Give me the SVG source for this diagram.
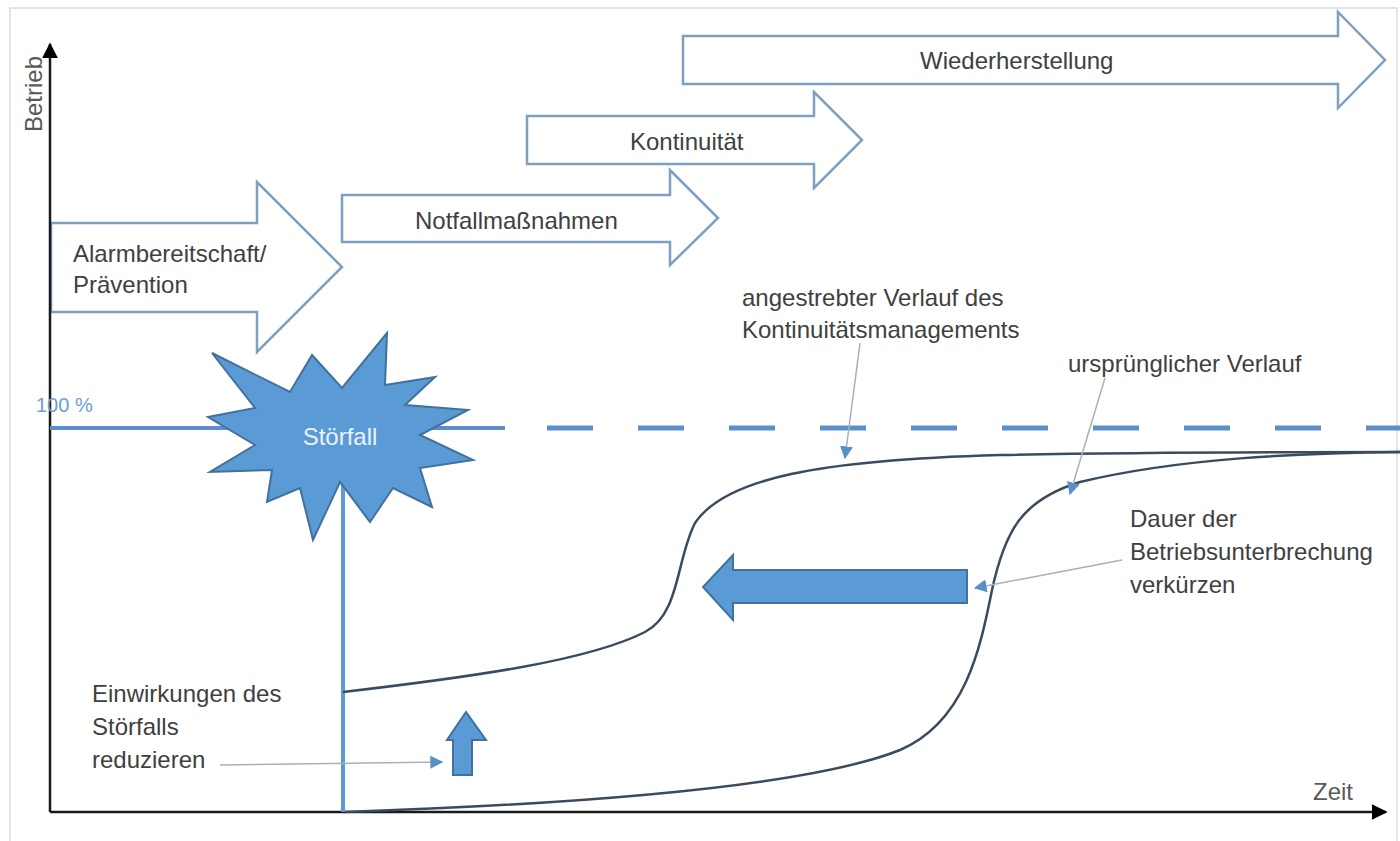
<svg xmlns="http://www.w3.org/2000/svg" width="1400" height="841" viewBox="0 0 1400 841">
<defs>
<style>
.t{font-family:"Liberation Sans",Arial,sans-serif;font-size:24px;fill:#404040}
.phase{fill:#ffffff;stroke:#7d9fc0;stroke-width:2.5;stroke-linejoin:miter}
.blue{fill:#5b9bd5;stroke:#41719c;stroke-width:2}
.curve{fill:none;stroke:#3b4b5e;stroke-width:2.5}
.ptr{fill:none;stroke:#a8b0b8;stroke-width:1.5;marker-end:url(#ph)}
.axis{fill:none;stroke:#1a1a1a;stroke-width:2.5}
</style>
<marker id="ph" viewBox="0 0 10 10" refX="9" refY="5" markerWidth="13" markerHeight="13" markerUnits="userSpaceOnUse" orient="auto"><path d="M0,0 L10,5 L0,10 z" fill="#5a8fc6"/></marker>
<marker id="ah" viewBox="0 0 10 10" refX="9" refY="5" markerWidth="16" markerHeight="16" markerUnits="userSpaceOnUse" orient="auto"><path d="M0,0 L10,5 L0,10 z" fill="#000"/></marker>
</defs>
<rect width="1400" height="841" fill="#ffffff"/>
<path d="M10,845 L10,8 L1397,8 L1397,845" fill="none" stroke="#dcdcdc" stroke-width="1.5"/>

<g id="phase-wiederherstellung">
<path class="phase" d="M683,36 L1338,36 L1338,12 L1385,60 L1338,108 L1338,84 L683,84 Z"/>
<text class="t" x="920" y="69">Wiederherstellung</text>
</g>
<g id="phase-kontinuitaet">
<path class="phase" d="M527,116 L814,116 L814,92 L862,140 L814,188 L814,164 L527,164 Z"/>
<text class="t" x="630" y="150">Kontinuität</text>
</g>
<g id="phase-notfall">
<path class="phase" d="M342,195 L670,195 L670,170 L718,218 L670,265 L670,242 L342,242 Z"/>
<text class="t" x="415" y="229">Notfallmaßnahmen</text>
</g>
<g id="phase-alarm">
<path class="phase" d="M51,223 L257,223 L257,182 L342,267 L257,352 L257,312 L51,312 Z"/>
<text class="t" x="73" y="262">Alarmbereitschaft/</text>
<text class="t" x="73" y="293">Prävention</text>
</g>

<g id="axes">
<line class="axis" x1="50" y1="812" x2="50" y2="44" marker-end="url(#ah)"/>
<line class="axis" x1="50" y1="812" x2="1386" y2="812" marker-end="url(#ah)"/>
<text class="t" transform="translate(42,132) rotate(-90)" fill="#595959" style="fill:#595959">Betrieb</text>
<text class="t" x="1313" y="800" style="fill:#595959">Zeit</text>
</g>

<g id="level-100">
<line x1="50" y1="428" x2="505" y2="428" stroke="#5b8fc9" stroke-width="4"/>
<line x1="547" y1="428" x2="1400" y2="428" stroke="#5b8fc9" stroke-width="5" stroke-dasharray="46 45"/>
<text x="36" y="412" style="font-family:'Liberation Sans',Arial,sans-serif;font-size:20px;fill:#6f9dcf">100 %</text>
</g>

<g id="stoerfall-line">
<line x1="343" y1="440" x2="343" y2="812" stroke="#5b9bd5" stroke-width="4"/>
</g>

<g id="stoerfall">
<polygon class="blue" points="212,353 290,392 312,355 342,388 387,333 385,385 435,377 405,405 468,410 420,435 473,460 420,468 432,507 393,488 370,522 340,482 313,540 300,488 267,502 272,470 210,472 255,445 208,417 255,408"/>
<text x="340" y="445" text-anchor="middle" style="font-family:'Liberation Sans',Arial,sans-serif;font-size:24px;fill:#eaf2fb">Störfall</text>
</g>

<g id="connectors">
<path id="curve-target" class="curve" d="M343,692 C480,676 590,660 645,632 C680,614 676,560 695,523 C725,478 820,460 1000,455 C1150,452 1300,452 1400,452"/>
<path id="curve-original" class="curve" d="M345,812 C550,805 800,790 900,750 C965,722 980,650 992,590 C1005,530 1022,500 1080,482 C1180,458 1300,453 1400,452"/>
<line class="ptr" x1="860" y1="343" x2="845" y2="458"/>
<line class="ptr" x1="1105" y1="378" x2="1070" y2="494"/>
<line class="ptr" x1="1122" y1="560" x2="975" y2="588"/>
<line class="ptr" x1="220" y1="765" x2="442" y2="762"/>
</g>

<g id="arrow-verkuerzen">
<path class="blue" d="M967,570 L733,570 L733,555 L703,587 L733,620 L733,603 L967,603 Z"/>
</g>
<g id="arrow-reduzieren">
<path class="blue" d="M453,775 L453,740 L447,740 L466,712 L486,740 L472,740 L472,775 Z"/>
</g>

<g id="label-target">
<text class="t" x="742" y="306">angestrebter Verlauf des</text>
<text class="t" x="742" y="338">Kontinuitätsmanagements</text>
</g>
<g id="label-original">
<text class="t" x="1068" y="372">ursprünglicher Verlauf</text>
</g>
<g id="label-dauer">
<text class="t" x="1130" y="527">Dauer der</text>
<text class="t" x="1130" y="560">Betriebsunterbrechung</text>
<text class="t" x="1130" y="593">verkürzen</text>
</g>
<g id="label-einwirkungen">
<text class="t" x="92" y="702">Einwirkungen des</text>
<text class="t" x="92" y="735">Störfalls</text>
<text class="t" x="92" y="768">reduzieren</text>
</g>
</svg>
